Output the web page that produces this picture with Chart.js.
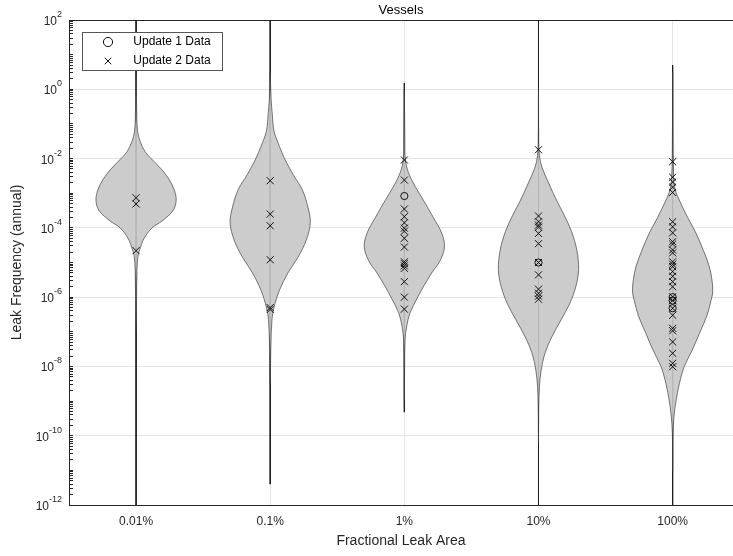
<!DOCTYPE html>
<html>
<head>
<meta charset="utf-8">
<title>Vessels</title>
<script src="https://cdn.jsdelivr.net/npm/chart.js@4.4.1/dist/chart.umd.min.js"></script>
<style>
  html, body { margin: 0; padding: 0; background: #fff; }
  #wrap { width: 733px; height: 556px; }
</style>
</head>
<body>
<div id="wrap"><canvas id="chart" width="733" height="556"></canvas></div>
<script>
const categories = ["0.01%", "0.1%", "1%", "10%", "100%"];

// labelled decades on the log axis, written as 10^exponent
const yTickValues = [1e2, 1e0, 1e-2, 1e-4, 1e-6, 1e-8, 1e-10, 1e-12];
const yTickExponents = ["2", "0", "-2", "-4", "-6", "-8", "-10", "-12"];

// violin outlines: log10 of the frequency, and half width as a share of the category spacing
const v1Levels = [0.5, -0.5, -1.2, -1.5, -1.8, -2.0, -2.3, -2.6, -2.9, -3.2, -3.5, -3.8, -4.0, -4.3, -4.55, -4.8, -5.2, -6.0, -7.0];
const v1Widths = [0, 0.004, 0.011, 0.030, 0.067, 0.112, 0.187, 0.246, 0.284, 0.299, 0.276, 0.194, 0.119, 0.060, 0.034, 0.015, 0.007, 0.004, 0];

const v2Levels = [0.5, -0.3, -0.7, -1.2, -1.65, -2.0, -2.45, -2.9, -3.4, -3.85, -4.35, -4.85, -5.3, -5.8, -6.3, -6.65, -7.4, -8.5];
const v2Widths = [0, 0.007, 0.015, 0.028, 0.069, 0.107, 0.169, 0.239, 0.281, 0.299, 0.269, 0.207, 0.132, 0.069, 0.028, 0.013, 0.005, 0];

const v3Levels = [0.0, -1.5, -2.0, -2.4, -2.8, -3.2, -3.7, -4.15, -4.55, -4.95, -5.3, -5.7, -6.05, -6.45, -6.85, -7.25, -8.0, -9.0];
const v3Widths = [0, 0.004, 0.007, 0.030, 0.080, 0.142, 0.216, 0.278, 0.299, 0.266, 0.204, 0.142, 0.093, 0.043, 0.017, 0.005, 0.002, 0];

const v4Levels = [0.0, -1.5, -1.9, -2.25, -2.7, -3.2, -3.65, -4.1, -4.65, -5.2, -5.7, -6.2, -6.65, -7.15, -7.6, -8.1, -8.6, -9.2, -10.2];
const v4Widths = [0, 0.002, 0.007, 0.026, 0.075, 0.134, 0.194, 0.246, 0.286, 0.299, 0.278, 0.231, 0.169, 0.099, 0.050, 0.020, 0.007, 0.002, 0];

const v5Levels = [0.5, -1.5, -2.5, -2.9, -3.2, -3.7, -4.15, -4.65, -5.1, -5.5, -5.85, -6.1, -6.55, -7.05, -7.55, -8.0, -8.5, -9.0, -9.45, -9.95, -11];
const v5Widths = [0, 0.002, 0.007, 0.019, 0.050, 0.112, 0.174, 0.229, 0.272, 0.293, 0.299, 0.286, 0.254, 0.199, 0.144, 0.087, 0.050, 0.025, 0.010, 0.002, 0];

// thin vertical line of each violin
const whiskerHigh = [1e2, 1e2, 1.5, 1e2, 5];
const whiskerLow = [1e-12, 4e-12, 4.8e-10, 1e-12, 1e-12];

const update1 = [
    [],
    [],
    [8.3e-4],
    [1.0e-5],
    [1.0e-6, 8.0e-7, 4.8e-7]
];

const update2 = [
    [7.4e-4, 4.9e-4, 2.2e-5],
    [2.3e-3, 2.5e-4, 1.15e-4, 1.2e-5, 5.0e-7, 4.4e-7],
    [9.1e-3, 2.4e-3, 3.5e-4, 2.1e-4, 1.4e-4, 9.8e-5, 8.0e-5, 5.0e-5, 2.8e-5, 1.05e-5, 9.3e-6, 8.0e-6, 6.8e-6, 2.8e-6, 1.0e-6, 4.5e-7],
    [1.8e-2, 2.2e-4, 1.5e-4, 1.2e-4, 1.05e-4, 6.9e-5, 3.5e-5, 1.0e-5, 4.4e-6, 1.7e-6, 1.3e-6, 1.07e-6, 8.7e-7],
    [8.1e-3, 2.9e-3, 2.1e-3, 1.5e-3, 1.05e-3, 1.5e-4, 1.07e-4, 7.2e-5, 4.0e-5, 3.4e-5, 2.3e-5, 1.9e-5, 1.05e-5, 8.9e-6, 7.6e-6,
     5.5e-6, 4.0e-6, 2.8e-6, 2.0e-6, 1.02e-6, 8.0e-7, 4.8e-7, 3.0e-7, 1.26e-7, 1.07e-7, 5.1e-8, 2.4e-8, 1.23e-8, 9.8e-9]
];

const violins = [
    [v1Levels, v1Widths],
    [v2Levels, v2Widths],
    [v3Levels, v3Widths],
    [v4Levels, v4Widths],
    [v5Levels, v5Widths]
];

const fontFamily = "'Liberation Sans', Arial, sans-serif";
Chart.defaults.font.family = fontFamily;
Chart.defaults.color = "#262626";

const toPoints = (lists) =>
    lists.flatMap((vals, i) => vals.map(v => ({ x: i + 1, y: v })));

// right side top->bottom, then left side back up
const outline = (levels, widths, pos) => {
    const right = levels.map((l, k) => ({ x: pos + widths[k], y: Math.pow(10, l) }));
    const left = levels.map((l, k) => ({ x: pos - widths[k], y: Math.pow(10, l) })).reverse().slice(1);
    return right.concat(left);
};

const isMajor = (v) => yTickValues.some(t => Math.abs(t - v) / t < 1e-6);

const datasets = [
    {
        label: "Update 1 Data",
        data: toPoints(update1),
        showLine: false,
        pointStyle: "circle",
        pointRadius: 3.6,
        borderColor: "#111",
        backgroundColor: "rgba(0,0,0,0)",
        borderWidth: 1,
        order: 0
    },
    {
        label: "Update 2 Data",
        data: toPoints(update2),
        showLine: false,
        pointStyle: "crossRot",
        pointRadius: 5,
        borderColor: "#111",
        backgroundColor: "rgba(0,0,0,0)",
        borderWidth: 1,
        order: 0
    }
];

violins.forEach(([levels, widths], i) => {
    datasets.push({
        label: "violin " + categories[i],
        data: outline(levels, widths, i + 1),
        fill: "shape",
        backgroundColor: "rgba(198,198,198,0.9)",
        borderColor: "rgba(60,60,60,0.85)",
        borderWidth: 0.8,
        pointRadius: 0,
        tension: 0.35,
        order: 1
    });
});

categories.forEach((c, i) => {
    datasets.push({
        label: "line " + c,
        data: [{ x: i + 1, y: whiskerHigh[i] }, { x: i + 1, y: whiskerLow[i] }],
        borderColor: "#1e1e1e",
        borderWidth: 1,
        pointRadius: 0,
        fill: false,
        order: 2
    });
});

// MATLAB style framed legend inside the axes, drawn over the data
const legendBox = {
    id: "legendBox",
    afterLayout(chart) {
        const lg = chart.legend;
        lg.left = 95; lg.top = 29; lg.right = 225; lg.bottom = 75;
    },
    afterDatasetsDraw(chart) {
        const ctx = chart.ctx;
        ctx.save();
        ctx.fillStyle = "#fff";
        ctx.fillRect(82, 32, 140, 38);
        ctx.strokeStyle = "#555";
        ctx.lineWidth = 1;
        ctx.strokeRect(82.5, 32.5, 140, 38);
        ctx.restore();
        chart.legend.draw();
    }
};

// 10 with a raised exponent at each labelled decade of the y scale
const powerLabels = {
    id: "powerLabels",
    afterDraw(chart) {
        const s = chart.scales.y;
        const ctx = chart.ctx;
        const right = 62;
        ctx.save();
        ctx.fillStyle = "#262626";
        ctx.textAlign = "right";
        ctx.textBaseline = "alphabetic";
        yTickValues.forEach((v, i) => {
            const y = s.getPixelForValue(v);
            ctx.font = "9px " + fontFamily;
            ctx.fillText(yTickExponents[i], right, y - 3);
            const w = ctx.measureText(yTickExponents[i]).width;
            ctx.font = "12px " + fontFamily;
            ctx.fillText("10", right - w, y + 5);
        });
        ctx.restore();
    }
};

new Chart(document.getElementById("chart"), {
    type: "line",
    data: { datasets },
    options: {
        responsive: false,
        animation: false,
        events: [],
        layout: { padding: 0, autoPadding: false },
        plugins: {
            title: {
                display: true,
                text: "Vessels",
                color: "#000",
                fullSize: false,
                font: { size: 13, weight: "normal" },
                padding: { top: 3, bottom: 1.4 }
            },
            legend: {
                position: "chartArea",
                align: "start",
                labels: {
                    usePointStyle: true,
                    boxHeight: 6.5,
                    padding: 7,
                    color: "#000",
                    font: { size: 12 },
                    filter: item => item.datasetIndex < 2,
                    generateLabels: chart =>
                        Chart.defaults.plugins.legend.labels.generateLabels(chart)
                            .map(l => ({ ...l, text: "    " + l.text }))
                }
            },
            tooltip: { enabled: false }
        },
        scales: {
            x: {
                type: "linear",
                min: 0.5,
                max: 5.45,
                afterBuildTicks: s => { s.ticks = categories.map((c, i) => ({ value: i + 1 })); },
                afterFit: s => { s.height = 51; },
                ticks: {
                    autoSkip: false,
                    maxRotation: 0,
                    padding: 9,
                    font: { size: 12 },
                    callback: v => categories[Math.round(v) - 1] ?? ""
                },
                grid: { color: "#e4e4e4", drawTicks: false },
                border: { color: "#262626", width: 1 },
                title: {
                    display: true,
                    text: "Fractional Leak Area",
                    font: { size: 14 },
                    padding: { top: 0, bottom: 6.6 }
                }
            },
            xTop: {
                type: "linear",
                position: "top",
                min: 0.5,
                max: 5.45,
                afterFit: s => { s.height = 0; },
                ticks: { display: false },
                grid: { display: false, drawTicks: false },
                border: { color: "#262626", width: 1 }
            },
            y: {
                type: "logarithmic",
                min: 1e-12,
                max: 1e2,
                afterBuildTicks: s => {
                    const t = [];
                    for (let p = -12; p <= 2; p++) {
                        const top = p < 2 ? 9 : 1;
                        for (let m = 1; m <= top; m++) t.push({ value: m * Math.pow(10, p) });
                    }
                    s.ticks = t;
                },
                afterFit: s => { s.width = 69; },
                ticks: {
                    autoSkip: false,
                    padding: 11,
                    font: { size: 12 },
                    callback: () => ""
                },
                grid: {
                    color: c => (c.tick && isMajor(c.tick.value)) ? "#e4e4e4" : "rgba(0,0,0,0)",
                    tickColor: "#262626",
                    tickLength: -4
                },
                border: { color: "#262626", width: 1 },
                title: {
                    display: true,
                    text: "Leak Frequency (annual)",
                    font: { size: 14 },
                    padding: { top: 8.6, bottom: 0 }
                }
            }
        }
    },
    plugins: [legendBox, powerLabels]
});
</script>
</body>
</html>
